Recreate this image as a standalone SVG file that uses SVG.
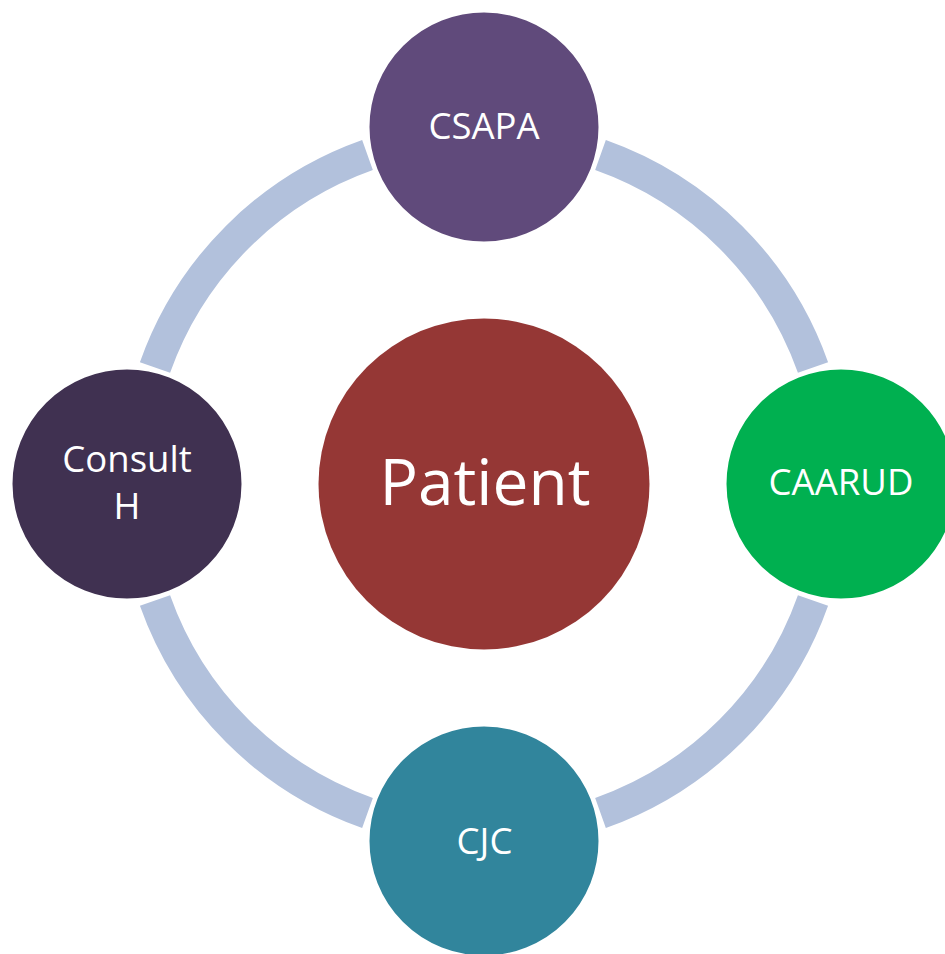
<svg xmlns="http://www.w3.org/2000/svg" width="945" height="954" viewBox="0 0 945 954">
<style>
.ring{fill:none;stroke:#B2C1DC;stroke-width:32;stroke-linecap:butt}
.sat{stroke:#FFFFFF;stroke-width:4}
.lbl{font-family:"Open Sans","Liberation Sans",sans-serif;fill:#FFFFFF;text-anchor:middle}
.s{font-size:36.5px}
.big{font-size:64px}
</style>
<rect width="945" height="954" fill="#FFFFFF"/>
<g id="connectors">
<path class="ring" d="M600.5,155 A349,349 0 0 1 813,367.5"/>
<path class="ring" d="M813,600.5 A349,349 0 0 1 600.5,813"/>
<path class="ring" d="M367.5,813 A349,349 0 0 1 155,600.5"/>
<path class="ring" d="M155,367.5 A349,349 0 0 1 367.5,155"/>
</g>
<g id="patient">
<circle cx="484" cy="484" r="165.5" fill="#953735"/>
<text class="lbl big" x="485" y="505">Patient</text>
</g>
<g id="csapa">
<circle class="sat" cx="484" cy="127" r="116.5" fill="#604A7B"/>
<text class="lbl s" x="484" y="139">CSAPA</text>
</g>
<g id="caarud">
<circle class="sat" cx="841" cy="484" r="116.5" fill="#00B050"/>
<text class="lbl s" x="841" y="495">CAARUD</text>
</g>
<g id="cjc">
<circle class="sat" cx="484" cy="841" r="116.5" fill="#31859C"/>
<text class="lbl s" x="484.5" y="854">CJC</text>
</g>
<g id="consult-h">
<circle class="sat" cx="127" cy="484" r="116.5" fill="#403151"/>
<text class="lbl s" x="127" y="472">Consult</text>
<text class="lbl s" x="127" y="519">H</text>
</g>
</svg>
